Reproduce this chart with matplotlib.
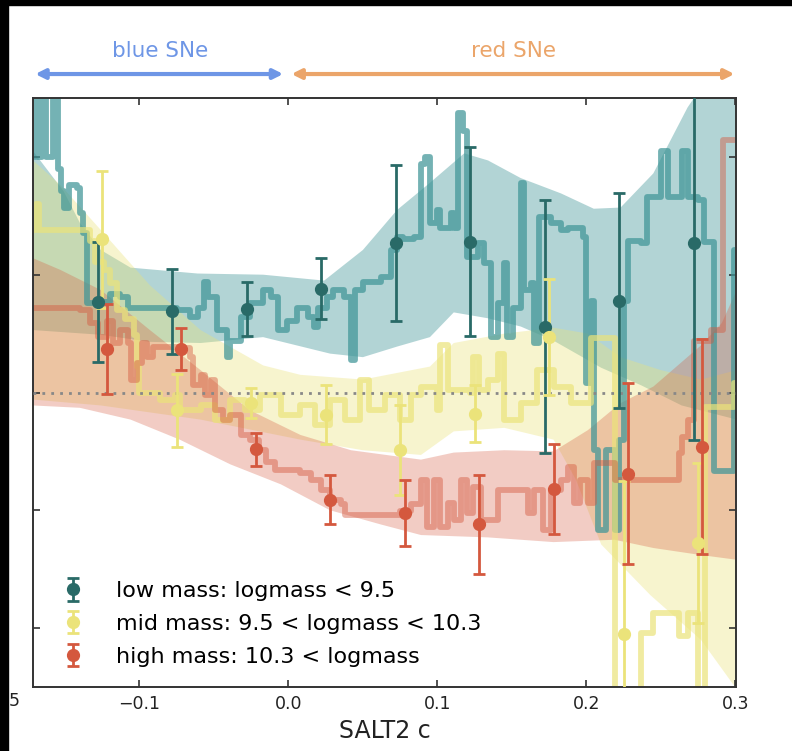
import numpy as np
import matplotlib
matplotlib.use("Agg")
import matplotlib.pyplot as plt
from matplotlib.patches import Rectangle

# ---------------- data ----------------
bin_centers = [-0.125, -0.075, -0.025, 0.025, 0.075, 0.125, 0.175, 0.225, 0.275]

low_y   = [0.077, 0.069, 0.071, 0.088, 0.127, 0.128, 0.056, 0.078, 0.127]
low_err = [0.051, 0.036, 0.023, 0.026, 0.066, 0.080, 0.107, 0.091, 0.167]
mid_y   = [0.130, -0.015, -0.009, -0.019, -0.049, -0.018, 0.047, -0.205, -0.128]
mid_err = [0.058, 0.031, 0.013, 0.025, 0.038, 0.024, 0.049, 0.130, 0.068]
high_y   = [0.037, 0.037, -0.048, -0.091, -0.102, -0.112, -0.082, -0.069, -0.046]
high_err = [0.038, 0.018, 0.014, 0.021, 0.028, 0.042, 0.038, 0.077, 0.091]

# running-median lines (step)
low_line_x = [-0.1715, -0.1705, -0.1685, -0.1655, -0.1625, -0.158, -0.155, -0.153, -0.151, -0.147,
              -0.142, -0.140, -0.138, -0.135, -0.128, -0.120, -0.113, -0.108, -0.084, -0.075,
              -0.066, -0.061, -0.057, -0.054, -0.048, -0.041, -0.039, -0.032, -0.026, -0.017,
              -0.012, -0.007, -0.001, 0.006, 0.013, 0.017, 0.020, 0.026, 0.030, 0.037,
              0.042, 0.045, 0.050, 0.062, 0.069, 0.073, 0.077, 0.084, 0.089, 0.092,
              0.095, 0.100, 0.102, 0.109, 0.111, 0.114, 0.117, 0.120, 0.127, 0.131,
              0.136, 0.141, 0.145, 0.147, 0.151, 0.156, 0.158, 0.163, 0.165, 0.168,
              0.176, 0.183, 0.188, 0.198, 0.200, 0.203, 0.205, 0.208, 0.213, 0.219,
              0.222, 0.225, 0.228, 0.237, 0.241, 0.250, 0.255, 0.264, 0.268, 0.275,
              0.279, 0.286, 0.289, 0.299, 0.300]
low_line_y = [0.200, 0.270, 0.200, 0.270, 0.200, 0.270, 0.190, 0.171, 0.157, 0.176,
              0.174, 0.152, 0.135, 0.076, 0.077, 0.084, 0.081, 0.072, 0.072, 0.070,
              0.064, 0.072, 0.094, 0.081, 0.053, 0.030, 0.044, 0.064, 0.076, 0.087,
              0.081, 0.053, 0.061, 0.072, 0.064, 0.056, 0.072, 0.081, 0.087, 0.081,
              0.028, 0.087, 0.094, 0.098, 0.121, 0.132, 0.130, 0.132, 0.194, 0.200,
              0.144, 0.155, 0.140, 0.152, 0.140, 0.237, 0.222, 0.115, 0.127, 0.110,
              0.047, 0.076, 0.110, 0.047, 0.072, 0.178, 0.087, 0.093, 0.042, 0.149,
              0.144, 0.138, 0.140, 0.132, 0.008, 0.078, -0.049, -0.117, -0.049, -0.117,
              -0.040, 0.078, 0.129, 0.127, 0.166, 0.205, 0.166, 0.205, 0.166, 0.163,
              0.128, -0.067, -0.067, 0.121, 0.121]

mid_line_x = [-0.1715, -0.1695, -0.1675, -0.133, -0.130, -0.124, -0.120, -0.115, -0.110, -0.104,
              -0.102, -0.100, -0.086, -0.076, -0.073, -0.059, -0.049, -0.039, -0.029, -0.019,
              -0.005, 0.008, 0.018, 0.028, 0.038, 0.048, 0.054, 0.065, 0.075, 0.082,
              0.089, 0.100, 0.102, 0.107, 0.122, 0.124, 0.128, 0.134, 0.141, 0.145,
              0.156, 0.167, 0.178, 0.190, 0.203, 0.219, 0.237, 0.245, 0.262, 0.268,
              0.275, 0.280, 0.299, 0.300]
mid_line_y = [0.138, 0.160, 0.138, 0.129, 0.111, 0.104, 0.093, 0.070, 0.062, 0.049,
              0.022, 0.000, -0.006, -0.002, -0.015, -0.011, -0.023, -0.006, -0.015, -0.002,
              -0.019, -0.011, -0.028, -0.006, -0.023, 0.011, -0.015, -0.002, -0.023, -0.002,
              0.005, -0.015, 0.040, 0.002, 0.000, 0.030, 0.002, 0.011, 0.033, -0.023,
              -0.009, 0.019, 0.005, -0.009, 0.046, -0.280, -0.204, -0.187, -0.207, -0.187,
              -0.280, -0.012, 0.008, 0.008]

high_line_x = [-0.1715, -0.140, -0.133, -0.128, -0.122, -0.118, -0.113, -0.108, -0.106, -0.102,
               -0.098, -0.095, -0.091, -0.071, -0.066, -0.064, -0.059, -0.056, -0.052, -0.049,
               -0.044, -0.039, -0.032, -0.026, -0.020, -0.015, -0.009, 0.008, 0.015, 0.022,
               0.028, 0.035, 0.038, 0.075, 0.082, 0.089, 0.093, 0.098, 0.102, 0.107,
               0.111, 0.116, 0.120, 0.124, 0.129, 0.141, 0.161, 0.165, 0.171, 0.176,
               0.183, 0.188, 0.192, 0.196, 0.201, 0.205, 0.219, 0.262, 0.264, 0.268,
               0.272, 0.284, 0.292, 0.300]
high_line_y = [0.072, 0.070, 0.059, 0.047, 0.061, 0.042, 0.053, 0.042, 0.011, 0.025,
               0.042, 0.030, 0.039, 0.038, 0.030, 0.006, 0.015, -0.002, 0.011, -0.015,
               -0.023, -0.019, -0.036, -0.040, -0.049, -0.059, -0.066, -0.068, -0.074, -0.083,
               -0.091, -0.095, -0.104, -0.101, -0.095, -0.074, -0.114, -0.074, -0.114, -0.094,
               -0.108, -0.074, -0.102, -0.080, -0.108, -0.083, -0.102, -0.083, -0.117, -0.083,
               -0.074, -0.063, -0.094, -0.074, -0.094, -0.060, -0.074, -0.051, -0.038, -0.023,
               0.044, 0.053, 0.214, 0.214]

# uncertainty bands
low_up_x = [-0.1715, -0.151, -0.140, -0.126, -0.106, -0.061, -0.017, 0.024, 0.050, 0.073,
            0.095, 0.118, 0.134, 0.156, 0.183, 0.205, 0.223, 0.245, 0.268, 0.275, 0.301]
low_up_y = [0.205, 0.171, 0.144, 0.121, 0.106, 0.101, 0.100, 0.095, 0.121, 0.155,
            0.178, 0.203, 0.197, 0.182, 0.169, 0.156, 0.157, 0.186, 0.242, 0.255, 0.280]
low_lo_x = [-0.1715, -0.126, -0.093, -0.059, -0.017, 0.028, 0.050, 0.073, 0.095, 0.111,
            0.134, 0.156, 0.178, 0.210, 0.237, 0.264, 0.301]
low_lo_y = [0.053, 0.049, 0.043, 0.042, 0.047, 0.033, 0.030, 0.039, 0.047, 0.068,
            0.063, 0.056, 0.044, 0.021, 0.006, -0.011, -0.023]

mid_up_x = [-0.1715, -0.153, -0.126, -0.093, -0.059, -0.017, 0.008, 0.050, 0.095, 0.111,
            0.145, 0.178, 0.201, 0.223, 0.250, 0.277, 0.301]
mid_up_y = [0.197, 0.176, 0.138, 0.091, 0.053, 0.023, 0.015, 0.011, 0.022, 0.042,
            0.050, 0.055, 0.050, 0.030, 0.019, 0.011, 0.019]
mid_lo_x = [-0.1715, -0.126, -0.059, 0.008, 0.050, 0.089, 0.111, 0.145, 0.178, 0.193,
            0.210, 0.243, 0.277, 0.301]
mid_lo_y = [-0.006, -0.011, -0.023, -0.040, -0.049, -0.053, -0.033, -0.030, -0.040, -0.074,
            -0.129, -0.172, -0.210, -0.252]

high_up_x = [-0.1715, -0.153, -0.126, -0.093, -0.059, -0.026, 0.008, 0.042, 0.089, 0.111,
             0.145, 0.178, 0.201, 0.223, 0.245, 0.277, 0.291, 0.301]
high_up_y = [0.114, 0.104, 0.087, 0.053, 0.019, -0.015, -0.036, -0.049, -0.057, -0.051,
             -0.049, -0.050, -0.032, -0.009, 0.005, 0.040, 0.059, 0.087]
high_lo_x = [-0.1715, -0.140, -0.106, -0.073, -0.039, -0.005, 0.028, 0.062, 0.089, 0.134,
             0.178, 0.219, 0.245, 0.277, 0.301]
high_lo_y = [-0.011, -0.013, -0.023, -0.040, -0.061, -0.078, -0.100, -0.112, -0.121, -0.123,
             -0.127, -0.125, -0.132, -0.138, -0.142]

labels = ["low mass: logmass < 9.5", "mid mass: 9.5 < logmass < 10.3", "high mass: 10.3 < logmass"]
x_ticks = [-0.1, 0.0, 0.1, 0.2, 0.3]
x_ticklabels = ["\u22120.1", "0.0", "0.1", "0.2", "0.3"]
y_ticks = [-0.2, -0.1, 0.0, 0.1, 0.2]

# ---------------- style ----------------
c_low_pt, c_low_ln = "#296a67", "#3f9597"
c_mid = "#ebe37a"
c_high = "#d4583e"
offsets = [-0.003, 0.0, 0.003]

W, H = 792, 751
fig = plt.figure(figsize=(W / 100, H / 100), dpi=100)
ax = fig.add_axes([33 / W, 1 - 687 / H, 703 / W, 589 / H])


def band(xu, yu, xl, yl, color, alpha):
    ax.fill(np.r_[xu, xl[::-1]], np.r_[yu, yl[::-1]], color=color, alpha=alpha, lw=0, zorder=1)


band(low_up_x, low_up_y, low_lo_x, low_lo_y, c_low_ln, 0.40)
band(mid_up_x, mid_up_y, mid_lo_x, mid_lo_y, c_mid, 0.37)
band(high_up_x, high_up_y, high_lo_x, high_lo_y, c_high, 0.30)

line_kw = dict(drawstyle="steps-post", lw=4.2, zorder=2, solid_joinstyle="round",
               solid_capstyle="round")
ax.plot(low_line_x, low_line_y, color=c_low_ln, alpha=0.72, **line_kw)
ax.plot(mid_line_x, mid_line_y, color=c_mid, alpha=0.7, **line_kw)
ax.plot(high_line_x, high_line_y, color=c_high, alpha=0.45, **line_kw)

ax.axhline(0, color="#888888", ls=(0, (1, 2.2)), lw=2, zorder=3)

bc = np.array(bin_centers)
handles = []
for ys, es, col, off, lab in [(low_y, low_err, c_low_pt, offsets[0], labels[0]),
                              (mid_y, mid_err, c_mid, offsets[1], labels[1]),
                              (high_y, high_err, c_high, offsets[2], labels[2])]:
    h = ax.errorbar(bc + off, ys, yerr=es, fmt="o", color=col, ms=8.5, elinewidth=2,
                    capsize=4.5, capthick=2, zorder=5, label=lab)
    handles.append(h)

ax.set_xlim(-0.1715, 0.3005)
ax.set_ylim(-0.25, 0.25)
ax.set_xticks(x_ticks)
ax.set_xticklabels(x_ticklabels)
ax.set_yticks(y_ticks)
ax.set_yticklabels([])
ax.tick_params(direction="in", top=True, right=True, length=5, width=1.2, colors="#333333",
               labelsize=12.5, labelcolor="#222222", pad=6)
for s in ax.spines.values():
    s.set_color("#333333")
    s.set_linewidth(1.4)
ax.set_xlabel("SALT2 c", fontsize=17, color="#222222", labelpad=4)

leg = ax.legend(handles=handles, loc="lower left", bbox_to_anchor=(0.006, 0.0), frameon=False,
                fontsize=16, handlelength=1.4, handletextpad=1.25, labelspacing=0.58)

# color-range annotations above the axes
for x0, x1, col, txt, tx in [(-0.170, -0.0035, "#6e96e6", "blue SNe", -0.086),
                             (0.002, 0.2995, "#eba56a", "red SNe", 0.151)]:
    ax.annotate("", xy=(x0, 1.0407), xytext=(x1, 1.0407),
                xycoords=("data", "axes fraction"), textcoords=("data", "axes fraction"),
                arrowprops=dict(arrowstyle="<|-|>", color=col, lw=3, mutation_scale=14,
                                shrinkA=0, shrinkB=0), annotation_clip=False)
    ax.text(tx, 1.0805, txt, color=col, fontsize=15.5, ha="center", va="center",
            transform=ax.get_xaxis_transform())

# cropped screenshot borders
fig.patches.append(Rectangle((0, 1 - 5 / H), 1, 5 / H, transform=fig.transFigure,
                             color="black", zorder=10))
fig.patches.append(Rectangle((0, 0), 8 / W, 1, transform=fig.transFigure,
                             color="black", zorder=10))
fig.text(8.5 / W, 1 - 701 / H, "5", fontsize=12.5, color="#222222", ha="left", va="center")

fig.savefig("out.png", dpi=100)
